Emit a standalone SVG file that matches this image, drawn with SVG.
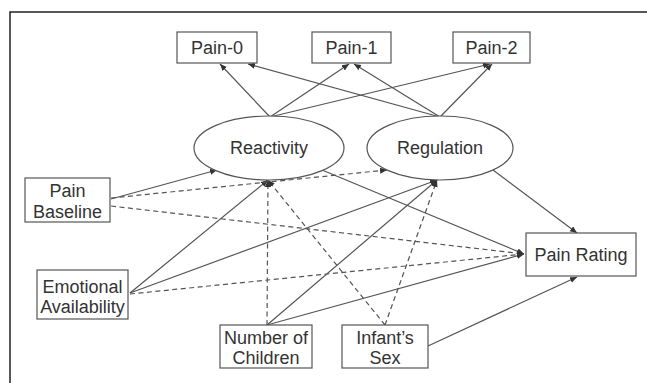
<svg xmlns="http://www.w3.org/2000/svg" width="647" height="383" viewBox="0 0 647 383">
<style>
.box{fill:#fff;stroke:#555;stroke-width:1.2}
.t{font-family:"Liberation Sans",Arial,sans-serif;font-size:18px;fill:#333;text-anchor:middle}
.c{stroke:#555;stroke-width:1.2;fill:none;marker-end:url(#ah)}
.d{stroke-dasharray:5,3.5}
</style>
<defs>
<marker id="ah" markerUnits="userSpaceOnUse" markerWidth="8" markerHeight="8" refX="7" refY="3" orient="auto">
<path d="M0,0 L7,3 L0,6 Z" fill="#333"/>
</marker>
</defs>
<rect width="647" height="383" fill="#fff"/>
<path d="M10,383 V12 H647" stroke="#222" stroke-width="1.5" fill="none"/>
<g id="connectors">
<line class="c" x1="270" y1="117" x2="220" y2="64"/>
<line class="c" x1="270" y1="117" x2="349" y2="64"/>
<line class="c" x1="270" y1="117" x2="490" y2="64"/>
<line class="c" x1="440" y1="117" x2="248" y2="64"/>
<line class="c" x1="440" y1="117" x2="354" y2="64"/>
<line class="c" x1="440" y1="117" x2="492" y2="64"/>
<line class="c" x1="111" y1="199" x2="217" y2="170"/>
<line class="c" x1="130" y1="293" x2="268" y2="180"/>
<line class="c" x1="130" y1="293" x2="437" y2="180"/>
<line class="c" x1="267" y1="325" x2="437" y2="180"/>
<line class="c" x1="267" y1="325" x2="524" y2="254"/>
<line class="c" x1="428" y1="346" x2="577" y2="277"/>
<line class="c" x1="322" y1="170" x2="524" y2="254"/>
<line class="c" x1="493" y1="170" x2="577" y2="233"/>
<line class="c d" x1="111" y1="198" x2="387" y2="170"/>
<line class="c d" x1="111" y1="206" x2="524" y2="254"/>
<line class="c d" x1="130" y1="294" x2="524" y2="254"/>
<line class="c d" x1="267" y1="325" x2="268" y2="180"/>
<line class="c d" x1="385" y1="325" x2="268" y2="180"/>
<line class="c d" x1="385" y1="325" x2="437" y2="180"/>
</g>
<g id="pain0"><rect class="box" x="177" y="32" width="80" height="31"/><text class="t" x="217" y="54">Pain-0</text></g>
<g id="pain1"><rect class="box" x="312" y="32" width="79" height="31"/><text class="t" x="351.5" y="54">Pain-1</text></g>
<g id="pain2"><rect class="box" x="453" y="32" width="77" height="31"/><text class="t" x="491.5" y="54">Pain-2</text></g>
<g id="reactivity"><ellipse class="box" cx="269" cy="148" rx="75" ry="32"/><text class="t" x="269" y="154">Reactivity</text></g>
<g id="regulation"><ellipse class="box" cx="440" cy="148" rx="73" ry="32"/><text class="t" x="440" y="154">Regulation</text></g>
<g id="painBaseline"><rect class="box" x="25" y="178" width="85" height="44"/><text class="t" x="67.5" y="197">Pain</text><text class="t" x="67.5" y="218">Baseline</text></g>
<g id="emotionalAvailability"><rect class="box" x="37" y="270" width="91" height="49"/><text class="t" x="82.5" y="293">Emotional</text><text class="t" x="82.5" y="313">Availability</text></g>
<g id="numberOfChildren"><rect class="box" x="220" y="325" width="92" height="43"/><text class="t" x="266" y="344">Number of</text><text class="t" x="266" y="364">Children</text></g>
<g id="infantsSex"><rect class="box" x="342" y="325" width="86" height="43"/><text class="t" x="385" y="344">Infant’s</text><text class="t" x="385" y="364">Sex</text></g>
<g id="painRating"><rect class="box" x="526" y="233" width="110" height="43"/><text class="t" x="581" y="261">Pain Rating</text></g>
</svg>
